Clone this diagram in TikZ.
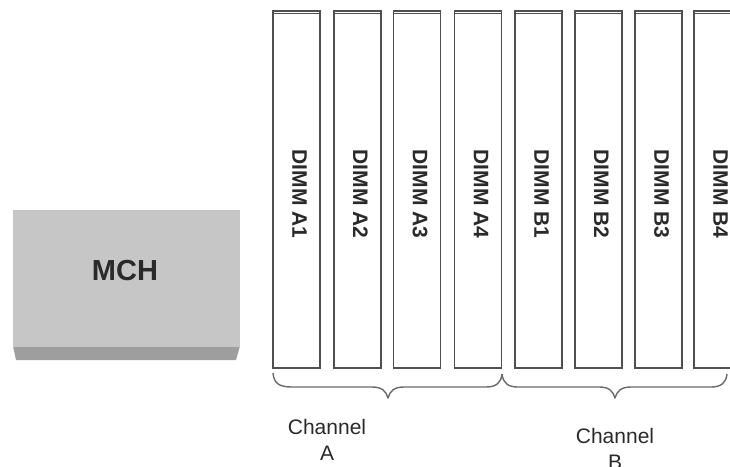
\documentclass[tikz,border=0pt]{standalone}
\usepackage{fontspec}
\setmainfont{Liberation Sans}
\definecolor{edge}{HTML}{505050}
\definecolor{chipfill}{HTML}{C6C6C6}
\definecolor{chipbase}{HTML}{9E9E9E}
\definecolor{labelink}{HTML}{2A2A2A}
\definecolor{bracecol}{HTML}{6A6A6A}
\tikzset{
  dimmbox/.style={draw=edge, line width=1.7pt, fill=white, minimum width=47pt, minimum height=357pt, inner sep=0pt},
  dimmlabel/.style={rotate=-90, font=\bfseries\fontsize{21}{21}\selectfont, text=labelink, inner sep=0pt},
  chanlabel/.style={font=\fontsize{21}{26}\selectfont, text=labelink, align=center, inner sep=0pt},
  bracepath/.style={draw=bracecol, line width=1.4pt, line join=round}
}
\begin{document}
\begin{tikzpicture}[x=1pt, y=-1pt]
  \useasboundingbox (0,0) rectangle (730,466);
  \clip (0,0) rectangle (730,466);

  % memory controller hub
  \fill[chipbase] (13,346) -- (240,346) -- (236,360) -- (16,360) -- cycle;
  \node[fill=chipfill, minimum width=227pt, minimum height=137pt, inner sep=0pt] (mch) at (126.5,278.5) {};
  \node[font=\bfseries\fontsize{29}{29}\selectfont, text=labelink, inner sep=0pt] (mchtext) at (125,271) {MCH};

  % DIMM slots
  \foreach \name/\x/\lab in {a1/296.5/A1, a2/357.5/A2, a3/417/A3, a4/478/A4,
                             b1/538.5/B1, b2/598.5/B2, b3/658.5/B3, b4/717.5/B4} {
    \node[dimmbox] (\name) at (\x,189.5) {};
    \draw[edge, line width=1.2pt] ([xshift=0.8pt,yshift=-3pt]\name.north west) -- ([xshift=-0.8pt,yshift=-3pt]\name.north east);
    \node[dimmlabel] (\name lab) at (\x+3,194) {DIMM \lab};
  }

  % channel braces
  \draw[bracepath] (273,373) .. controls (274,384) and (280,387) .. (292,387)
    -- (372,387) .. controls (382,387) and (386,391) .. (388,398)
    .. controls (390,391) and (394,387) .. (404,387)
    -- (486,387) .. controls (496,387) and (501,383) .. (502,374);
  \draw[bracepath] (502,374) .. controls (503,383) and (508,387) .. (518,387)
    -- (599,387) .. controls (609,387) and (613,391) .. (615,398)
    .. controls (617,391) and (621,387) .. (631,387)
    -- (711,387) .. controls (721,387) and (726,383) .. (727,374);

  % channel names
  \node[chanlabel] (chA) at (327,440) {Channel\\A};
  \node[chanlabel] (chB) at (615,448.5) {Channel\\B};
\end{tikzpicture}
\end{document}
